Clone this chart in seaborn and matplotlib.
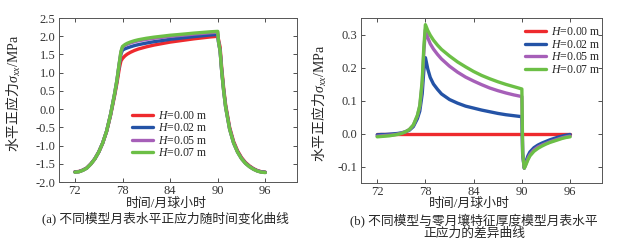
import numpy as np
import pandas as pd
import seaborn as sns
import matplotlib.pyplot as plt

# time axis (lunar hours), shared by every curve
TIME = [72.0, 72.5, 73.0, 73.5, 74.0, 74.5, 75.0, 75.5, 76.0, 76.5,
        77.0, 77.3, 77.6, 77.8, 78.0, 78.3, 78.6, 79.0, 79.5, 80.0,
        81.0, 82.0, 83.0, 84.0, 85.0, 86.0, 87.0, 88.0, 89.0, 90.0,
        90.1, 90.3, 90.5, 90.75, 91.0, 91.5, 92.0, 92.5, 93.0, 93.5,
        94.0, 94.5, 95.0, 95.5, 96.0]

LABELS = ["$H$=0.00 m", "$H$=0.02 m", "$H$=0.05 m", "$H$=0.07 m"]
COLORS = ["#ee2a2e", "#2453a6", "#a65fb8", "#6cbf46"]

# (a) horizontal normal stress, MPa
STRESS_H000 = [-1.720, -1.711, -1.672, -1.613, -1.505, -1.367, -1.180, -0.935, -0.612, -0.166,
               0.365, 0.715, 1.120, 1.320, 1.390, 1.460, 1.510, 1.560, 1.610, 1.650,
               1.710, 1.760, 1.800, 1.840, 1.870, 1.900, 1.930, 1.955, 1.980, 2.000,
               1.910, 1.705, 1.145, 0.580, 0.118, -0.496, -0.885, -1.142, -1.328, -1.463,
               -1.557, -1.631, -1.685, -1.718, -1.730]
STRESS_H002 = [-1.724, -1.714, -1.675, -1.615, -1.506, -1.367, -1.178, -0.930, -0.602, -0.145,
               0.410, 0.783, 1.240, 1.510, 1.620, 1.655, 1.680, 1.710, 1.744, 1.770,
               1.813, 1.852, 1.883, 1.917, 1.941, 1.966, 1.991, 2.012, 2.034, 2.051,
               1.845, 1.600, 1.060, 0.512, 0.062, -0.539, -0.920, -1.171, -1.352, -1.482,
               -1.572, -1.642, -1.693, -1.723, -1.733]
STRESS_H005 = [-1.728, -1.718, -1.678, -1.618, -1.509, -1.369, -1.179, -0.930, -0.600, -0.141,
               0.418, 0.797, 1.270, 1.565, 1.705, 1.750, 1.782, 1.816, 1.850, 1.876,
               1.914, 1.946, 1.971, 1.999, 2.018, 2.038, 2.060, 2.078, 2.097, 2.112,
               1.850, 1.600, 1.053, 0.504, 0.054, -0.546, -0.926, -1.177, -1.358, -1.488,
               -1.578, -1.648, -1.698, -1.728, -1.738]
STRESS_H007 = [-1.730, -1.720, -1.680, -1.620, -1.510, -1.370, -1.180, -0.930, -0.600, -0.140,
               0.420, 0.800, 1.280, 1.580, 1.720, 1.772, 1.808, 1.843, 1.878, 1.905,
               1.945, 1.977, 2.002, 2.028, 2.046, 2.066, 2.087, 2.104, 2.122, 2.135,
               1.850, 1.600, 1.050, 0.500, 0.050, -0.550, -0.930, -1.180, -1.360, -1.490,
               -1.580, -1.650, -1.700, -1.730, -1.740]

# (b) difference to the H=0 model, MPa
DIFF_H000 = [0.0] * 45
DIFF_H002 = [-0.004, -0.003, -0.003, -0.002, -0.001, 0.000, 0.002, 0.005, 0.010, 0.021,
             0.045, 0.068, 0.120, 0.190, 0.230, 0.195, 0.170, 0.150, 0.134, 0.120,
             0.103, 0.092, 0.083, 0.077, 0.071, 0.066, 0.061, 0.057, 0.054, 0.051,
             -0.065, -0.105, -0.085, -0.068, -0.056, -0.043, -0.035, -0.029, -0.024, -0.019,
             -0.015, -0.011, -0.008, -0.005, -0.003]
DIFF_H005 = [-0.008, -0.007, -0.006, -0.005, -0.004, -0.002, 0.001, 0.005, 0.012, 0.025,
             0.053, 0.082, 0.150, 0.245, 0.315, 0.290, 0.272, 0.256, 0.240, 0.226,
             0.204, 0.186, 0.171, 0.159, 0.148, 0.138, 0.130, 0.123, 0.117, 0.112,
             -0.060, -0.105, -0.092, -0.076, -0.064, -0.050, -0.041, -0.035, -0.030, -0.025,
             -0.021, -0.017, -0.013, -0.010, -0.008]
DIFF_H007 = [-0.010, -0.009, -0.008, -0.007, -0.005, -0.003, 0.000, 0.005, 0.012, 0.026,
             0.055, 0.085, 0.160, 0.260, 0.330, 0.312, 0.298, 0.283, 0.268, 0.255,
             0.235, 0.217, 0.202, 0.188, 0.176, 0.166, 0.157, 0.149, 0.142, 0.135,
             -0.060, -0.105, -0.095, -0.080, -0.068, -0.054, -0.045, -0.038, -0.032, -0.027,
             -0.023, -0.019, -0.015, -0.012, -0.010]


def long_form(series):
    frames = [pd.DataFrame({"t": TIME, "v": vals, "H": lab}) for lab, vals in zip(LABELS, series)]
    return pd.concat(frames, ignore_index=True)


df_a = long_form([STRESS_H000, STRESS_H002, STRESS_H005, STRESS_H007])
df_b = long_form([DIFF_H000, DIFF_H002, DIFF_H005, DIFF_H007])

sns.set_theme(style="ticks")
plt.rcParams["font.family"] = ["Liberation Serif", "Noto Sans CJK SC"]
plt.rcParams["font.size"] = 9
# custom mathtext: CJK upright text, serif italic symbols, serif "sf" for units
plt.rcParams["mathtext.fontset"] = "custom"
plt.rcParams["mathtext.rm"] = "Noto Sans CJK SC"
plt.rcParams["mathtext.it"] = "Liberation Serif:italic"
plt.rcParams["mathtext.sf"] = "Liberation Serif"
plt.rcParams["mathtext.fallback"] = "stix"

YLABEL = r"$\mathrm{水平正应力}\sigma_{xx}\mathsf{/MPa}$"

fig = plt.figure(figsize=(6.28, 2.44), dpi=100)
ax_a = fig.add_axes([0.094, 0.254, 0.379, 0.672])
ax_b = fig.add_axes([0.575, 0.250, 0.384, 0.676])

for ax, df in ((ax_a, df_a), (ax_b, df_b)):
    sns.lineplot(data=df, x="t", y="v", hue="H", hue_order=LABELS, palette=COLORS,
                 linewidth=2.4, sort=False, ax=ax)
    ax.set_xlim(70, 100)
    ax.set_xticks([72, 78, 84, 90, 96])
    ax.tick_params(direction="in", top=True, right=True, length=3, width=0.6,
                   labelsize=9, colors="#333333", pad=2.5)
    for s in ax.spines.values():
        s.set_linewidth(0.7)
        s.set_color("#555555")
    ax.set_xlabel("时间/月球小时", fontsize=9.3)
    ax.set_ylabel(YLABEL, fontsize=10)

ax_a.set_ylim(-2.0, 2.5)
ax_a.set_yticks(np.arange(-2.0, 2.51, 0.5))
ax_a.yaxis.set_major_formatter(plt.FormatStrFormatter("%.1f"))
ax_b.set_ylim(-0.15, 0.35)
ax_b.set_yticks([-0.1, 0.0, 0.1, 0.2, 0.3])
ax_b.yaxis.set_major_formatter(plt.FormatStrFormatter("%.1f"))

ax_a.xaxis.set_label_coords(0.45, -0.095)
ax_b.xaxis.set_label_coords(0.45, -0.092)
ax_a.yaxis.set_label_coords(-0.15, 0.54)
ax_b.yaxis.set_label_coords(-0.135, 0.48)

leg_kw = dict(frameon=False, fontsize=8.5, handlelength=1.8, handletextpad=0.4,
              labelspacing=0.05, borderaxespad=0.0)
ax_a.legend(loc="upper left", bbox_to_anchor=(0.285, 0.47), **leg_kw)
ax_b.legend(loc="upper left", bbox_to_anchor=(0.66, 0.98), **leg_kw)

fig.text(165 / 628, 1 - 218 / 244, "(a) 不同模型月表水平正应力随时间变化曲线",
         ha="center", va="center", fontsize=9.2)
fig.text(474 / 628, 1 - 227 / 244, "(b) 不同模型与零月壤特征厚度模型月表水平\n正应力的差异曲线",
         ha="center", va="center", fontsize=9.2, linespacing=0.95)

fig.savefig("out.png", dpi=100)
